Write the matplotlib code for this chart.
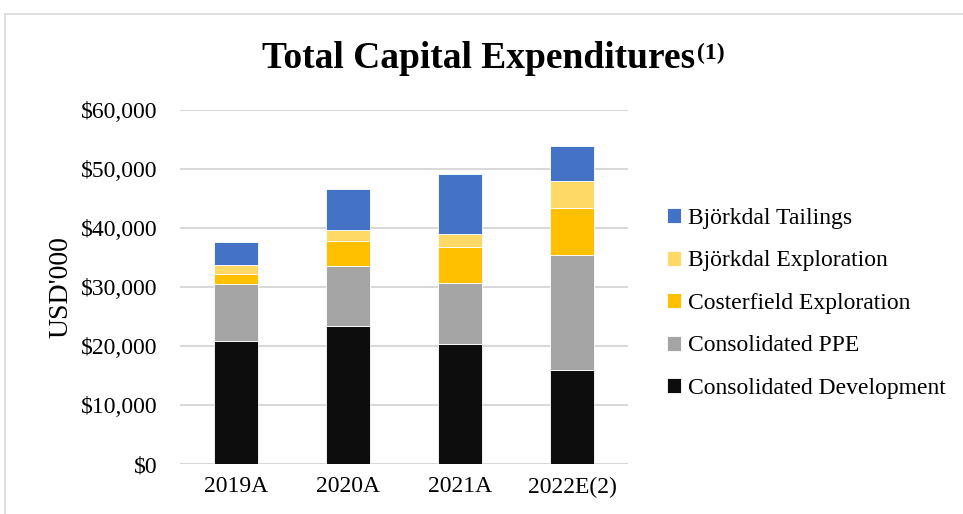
import matplotlib
matplotlib.use("Agg")
import matplotlib.pyplot as plt
from matplotlib.patches import Rectangle
from matplotlib.ticker import FuncFormatter

categories = ["2019A", "2020A", "2021A", "2022E(2)"]
consolidated_development = [20800, 23450, 20350, 15900]
consolidated_ppe = [9650, 10100, 10250, 19500]
costerfield_exploration = [1750, 4250, 6100, 8000]
bjorkdal_exploration = [1500, 1900, 2300, 4600]
bjorkdal_tailings = [4000, 6950, 10100, 5950]

series = [
    ("Consolidated Development", consolidated_development, "#0d0d0d"),
    ("Consolidated PPE", consolidated_ppe, "#a5a5a5"),
    ("Costerfield Exploration", costerfield_exploration, "#ffc000"),
    ("Björkdal Exploration", bjorkdal_exploration, "#ffd966"),
    ("Björkdal Tailings", bjorkdal_tailings, "#4472c4"),
]

plt.rcParams["font.family"] = ["Liberation Serif", "DejaVu Serif"]

W, H = 963, 514
fig = plt.figure(figsize=(W / 100, H / 100), dpi=100)
fig.patch.set_facecolor("white")

# outer border
fig.patches.append(Rectangle((5 / W, -0.05), 1.1, 1 - 14 / H + 0.05,
                             transform=fig.transFigure, fill=False,
                             edgecolor="#d9d9d9", linewidth=1.2))

ax = fig.add_axes([180 / W, 1 - 464 / H, (628 - 180) / W, (464 - 110) / H])
x = range(len(categories))
bottom = [0] * len(categories)
handles = []
for name, vals, color in series:
    b = ax.bar(x, vals, width=0.4, bottom=bottom, color=color, label=name,
               edgecolor="white", linewidth=0.6, zorder=3)
    handles.append(b)
    bottom = [a + v for a, v in zip(bottom, vals)]

ax.set_xlim(-0.5, 3.5)
ax.set_ylim(0, 60000)
ax.set_yticks(range(0, 60001, 10000))
ax.yaxis.set_major_formatter(FuncFormatter(lambda v, p: f"${int(v):,}"))
ax.grid(axis="y", color="#d9d9d9", linewidth=1.5, zorder=0)
for s in ax.spines.values():
    s.set_visible(False)
ax.tick_params(axis="both", length=0, labelsize=17, colors="#000000")
ax.tick_params(axis="y", pad=16)
ax.tick_params(axis="x", pad=9)
ax.set_xticks(list(x))
ax.set_xticklabels(categories)
ax.set_ylabel("USD'000", fontsize=20)
ax.yaxis.set_label_coords(-0.237, 0.5)

title = fig.text(0.497, 1 - 68 / H, "Total Capital Expenditures", ha="center",
                 va="baseline", fontsize=27, fontweight="bold")
ax.annotate("(1)", xy=(1, 1), xycoords=title, xytext=(1, -1),
            textcoords="offset points", ha="left", va="top",
            fontsize=17, fontweight="bold")

leg = fig.legend(handles[::-1], [s[0] for s in series][::-1],
                 loc="upper left", bbox_to_anchor=(667 / W, 1 - 208 / H),
                 frameon=False, fontsize=17, handlelength=0.6,
                 handleheight=0.6, handletextpad=0.3, labelspacing=0.91,
                 borderaxespad=0, borderpad=0)

fig.savefig("out.png", dpi=100)
